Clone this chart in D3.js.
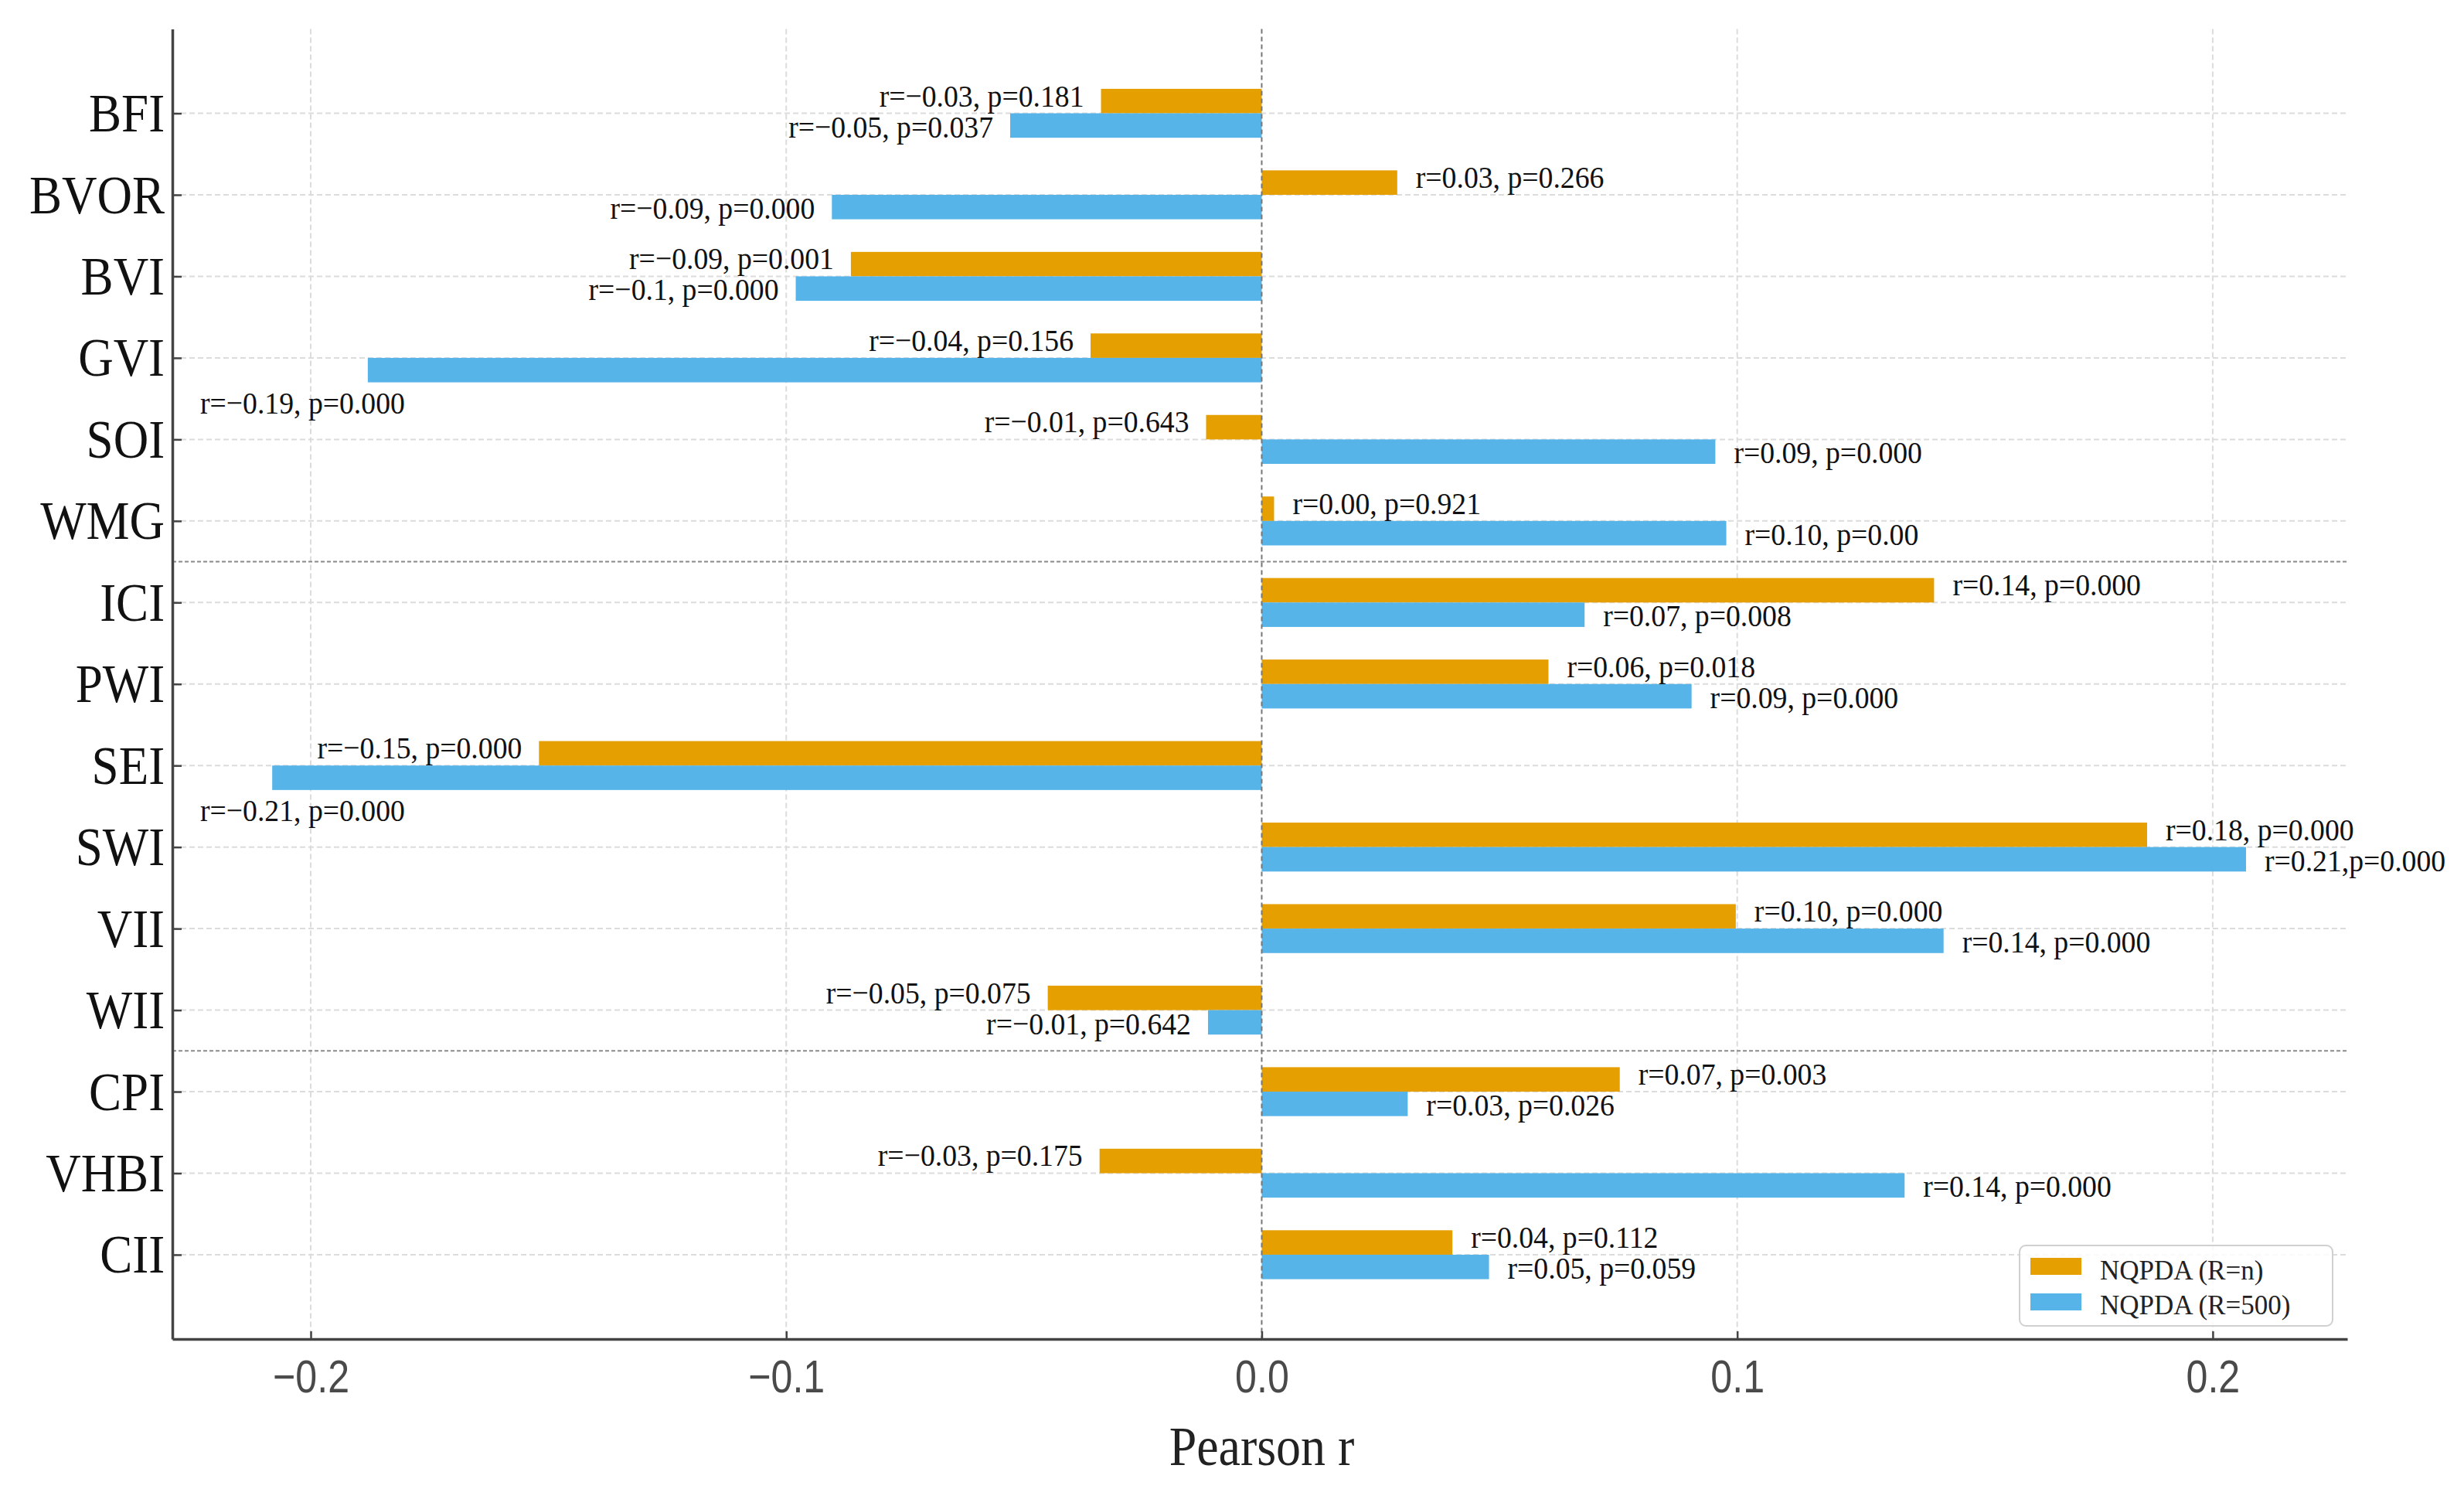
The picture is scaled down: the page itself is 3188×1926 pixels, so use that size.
<!DOCTYPE html>
<html>
<head>
<meta charset="utf-8">
<script src="https://cdn.jsdelivr.net/npm/d3@7"></script>
<style>body{margin:0;background:#fff}</style>
</head>
<body>
<script>
// indices, top to bottom
var categories = ["BFI", "BVOR", "BVI", "GVI", "SOI", "WMG", "ICI", "PWI", "SEI", "SWI", "VII", "WII", "CPI", "VHBI", "CII"];
// Pearson r, NQPDA (R=n)
var rN = [-0.0338, 0.0285, -0.0864, -0.0360, -0.0117, 0.0026, 0.1414, 0.0603, -0.1520, 0.1862, 0.0997, -0.0450, 0.0753, -0.0341, 0.0401];
// Pearson r, NQPDA (R=500)
var r500 = [-0.0529, -0.0904, -0.0980, -0.1880, 0.0954, 0.0977, 0.0679, 0.0904, -0.2081, 0.2070, 0.1434, -0.0113, 0.0307, 0.1352, 0.0478];
var labelsN = ["r=\u22120.03, p=0.181", "r=0.03, p=0.266", "r=\u22120.09, p=0.001", "r=\u22120.04, p=0.156", "r=\u22120.01, p=0.643",
  "r=0.00, p=0.921", "r=0.14, p=0.000", "r=0.06, p=0.018", "r=\u22120.15, p=0.000", "r=0.18, p=0.000",
  "r=0.10, p=0.000", "r=\u22120.05, p=0.075", "r=0.07, p=0.003", "r=\u22120.03, p=0.175", "r=0.04, p=0.112"];
var labels500 = ["r=\u22120.05, p=0.037", "r=\u22120.09, p=0.000", "r=\u22120.1, p=0.000", "r=\u22120.19, p=0.000", "r=0.09, p=0.000",
  "r=0.10, p=0.00", "r=0.07, p=0.008", "r=0.09, p=0.000", "r=\u22120.21, p=0.000", "r=0.21,p=0.000",
  "r=0.14, p=0.000", "r=\u22120.01, p=0.642", "r=0.03, p=0.026", "r=0.14, p=0.000", "r=0.05, p=0.059"];
var xTicks = [-0.2, -0.1, 0.0, 0.1, 0.2];
var groupBreaks = [5.5, 11.5];
var seriesNames = ["NQPDA (R=n)", "NQPDA (R=500)"];
var colors = ["#E69F00", "#56B4E9"];

var width = 3188, height = 1926;
var plotLeft = 223, plotRight = 3037, plotTop = 37.5, plotBottom = 1732;
var serif = "'Liberation Serif', 'Times New Roman', serif";
var sans = "'Liberation Sans', Arial, sans-serif";

var svg = d3.select("body").append("svg")
  .attr("width", width).attr("height", height)
  .style("background", "#fff");

var x = d3.scaleLinear().domain([-0.2291, 0.2283]).range([plotLeft, plotRight]);
var y = d3.scaleLinear().domain([-1.034, categories.length - 1 + 1.034]).range([plotTop, plotBottom]);
var barH = y(0.3) - y(0);

// grid
svg.append("g").selectAll("line").data(xTicks.filter(function(d){ return d !== 0; }))
  .enter().append("line")
  .attr("x1", function(d){ return x(d); }).attr("x2", function(d){ return x(d); })
  .attr("y1", plotTop).attr("y2", plotBottom)
  .attr("stroke", "#dcdcdc").attr("stroke-width", 2).attr("stroke-dasharray", "7,4");

svg.append("g").selectAll("line").data(d3.range(categories.length))
  .enter().append("line")
  .attr("x1", plotLeft).attr("x2", plotRight)
  .attr("y1", function(i){ return y(i); }).attr("y2", function(i){ return y(i); })
  .attr("stroke", "#dcdcdc").attr("stroke-width", 2).attr("stroke-dasharray", "7,4");

// group separators
svg.append("g").selectAll("line").data(groupBreaks)
  .enter().append("line")
  .attr("x1", plotLeft).attr("x2", plotRight)
  .attr("y1", function(d){ return y(d); }).attr("y2", function(d){ return y(d); })
  .attr("stroke", "#8a8a8a").attr("stroke-width", 2).attr("stroke-dasharray", "5,3");

// bars
[rN, r500].forEach(function(vals, k) {
  svg.append("g").selectAll("rect").data(vals)
    .enter().append("rect")
    .attr("x", function(d){ return Math.min(x(0), x(d)); })
    .attr("width", function(d){ return Math.abs(x(d) - x(0)); })
    .attr("y", function(d, i){ return k === 0 ? y(i - 0.3) : y(i); })
    .attr("height", barH)
    .attr("fill", colors[k]);
});

// zero line
svg.append("line")
  .attr("x1", x(0)).attr("x2", x(0)).attr("y1", plotTop).attr("y2", plotBottom)
  .attr("stroke", "#777").attr("stroke-width", 2).attr("stroke-dasharray", "6,4");

// value labels
var lblScale = 0.92;
[[rN, labelsN], [r500, labels500]].forEach(function(pair, k) {
  var vals = pair[0], texts = pair[1];
  vals.forEach(function(v, i) {
    var t = svg.append("text")
      .attr("font-family", serif).attr("font-size", 41).attr("fill", "#111")
      .text(texts[i]);
    var w = t.node().getComputedTextLength() * lblScale;
    var px, py = y(i) + (k === 0 ? -9 : 31), anchor;
    if (v >= 0) { px = x(v) + 24; anchor = "start"; }
    else { px = x(v) - 22; anchor = "end"; }
    if (anchor === "end" && px - w < plotLeft + 10) {
      // no room on the left: put it under the bar
      anchor = "start"; px = plotLeft + 36; py = y(i) + 72;
    }
    t.attr("text-anchor", anchor)
      .attr("transform", "translate(" + px + "," + py + ") scale(" + lblScale + ",1)");
  });
});

// axes
var xAxis = svg.append("g").attr("transform", "translate(0," + plotBottom + ")")
  .call(d3.axisBottom(x).tickValues(xTicks).tickFormat(d3.format(".1f")).tickSize(-10).tickSizeOuter(0));
xAxis.select(".domain").attr("stroke", "#444").attr("stroke-width", 3.5);
xAxis.selectAll(".tick line").attr("stroke", "#444").attr("stroke-width", 2.5);
xAxis.selectAll(".tick text")
  .attr("y", 69.5).attr("dy", null)
  .attr("font-family", sans).attr("font-size", 59).attr("fill", "#4a4a4a")
  .attr("transform", "scale(0.85,1)");

var yAxis = svg.append("g").attr("transform", "translate(" + plotLeft + ",0)")
  .call(d3.axisLeft(y).tickValues(d3.range(categories.length))
    .tickFormat(function(i){ return categories[i]; }).tickSize(-12).tickSizeOuter(0));
yAxis.select(".domain").attr("stroke", "#444").attr("stroke-width", 3.5);
yAxis.selectAll(".tick line").attr("stroke", "#444").attr("stroke-width", 2.5);
yAxis.selectAll(".tick text")
  .attr("x", -11).attr("y", 23).attr("dy", null)
  .attr("font-family", serif).attr("font-size", 70).attr("fill", "#111")
  .attr("transform", "scale(0.9,1)");

// axis title
svg.append("text")
  .attr("transform", "translate(" + x(0) + ",1895) scale(0.9,1)")
  .attr("text-anchor", "middle")
  .attr("font-family", serif).attr("font-size", 71).attr("fill", "#222")
  .text("Pearson r");

// legend
var lg = svg.append("g").attr("transform", "translate(" + (plotRight - 424) + "," + (plotBottom - 121) + ")");
lg.append("rect").attr("width", 405).attr("height", 104).attr("rx", 8)
  .attr("fill", "#fff").attr("fill-opacity", 0.85)
  .attr("stroke", "#d0d0d0").attr("stroke-width", 2);
seriesNames.forEach(function(name, k) {
  lg.append("rect").attr("x", 14).attr("y", 16 + k * 46).attr("width", 66).attr("height", 22)
    .attr("fill", colors[k]);
  lg.append("text").attr("x", 104).attr("y", 44 + k * 45)
    .attr("font-family", serif).attr("font-size", 35).attr("fill", "#222")
    .text(name);
});
</script>
</body>
</html>
